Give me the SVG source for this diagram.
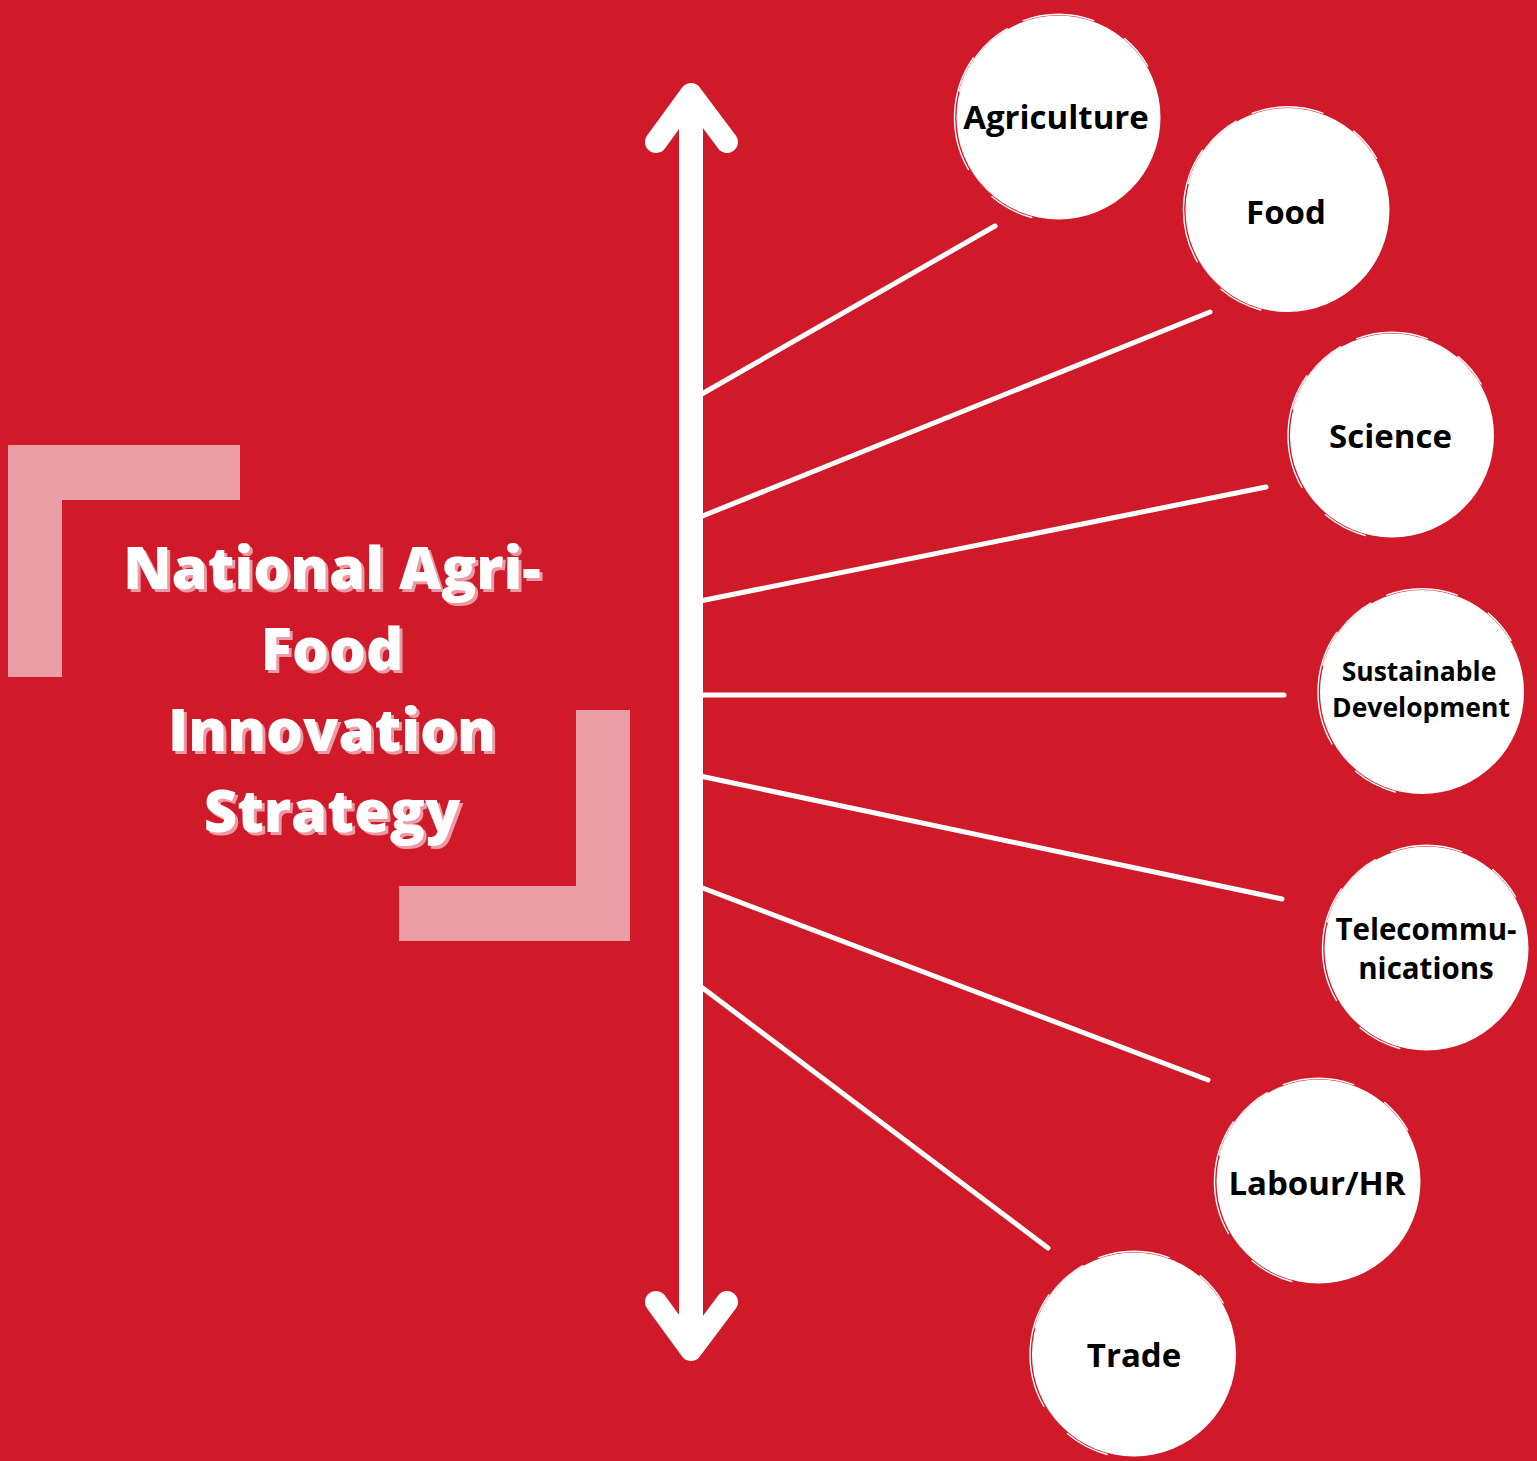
<svg xmlns="http://www.w3.org/2000/svg" xmlns:xlink="http://www.w3.org/1999/xlink" width="1537" height="1461" viewBox="0 0 1537 1461">
<style>
.bg{fill:#d11a29}
.bracket{fill:#eb9ea5}
.title{font-family:"Open Sans","Liberation Sans",sans-serif;font-weight:800;font-size:58px;text-anchor:middle}
.title-shadow{fill:#ec9aa3}
.title-main{fill:#ffffff}
.node-fill{fill:#ffffff}
.brush{fill:none;stroke:#ffffff;stroke-width:1.4;stroke-linecap:round}
.label{font-family:"Open Sans","Liberation Sans",sans-serif;font-weight:700;fill:#000000;text-anchor:middle}
.shaft{stroke:#ffffff;stroke-width:24;fill:none}
.head{stroke:#ffffff;stroke-width:22;fill:none;stroke-linecap:round;stroke-linejoin:round}
.branch{stroke:#ffffff;stroke-width:5;fill:none;stroke-linecap:round}
</style>
<defs>
<g id="blob">
<circle class="node-fill" cx="0" cy="0" r="102"/>
<path class="brush" d="M -90.07 52 A 104 104 0 0 1 -85.19 -59.65"/>
<path class="brush" d="M -35.23 -96.79 A 103 103 0 0 1 35.23 -96.79"/>
<path class="brush" d="M -26.79 99.97 A 103.5 103.5 0 0 1 -66.53 79.29"/>
<path class="brush" d="M -99.01 -26.53 A 102.5 102.5 0 0 1 -51.25 -88.77"/>
<path class="brush" d="M 66.21 -78.9 A 103 103 0 0 1 89.2 -51.5"/>
</g>
</defs>
<rect class="bg" x="0" y="0" width="1537" height="1461"/>

<g id="brackets">
<path class="bracket" d="M 8 445 H 240 V 500 H 62 V 677 H 8 Z"/>
<path class="bracket" d="M 630 710 V 941 H 399 V 886 H 576 V 710 Z"/>
</g>

<g id="title">
<g class="title title-shadow" transform="translate(3,3)">
<text x="332" y="589">National Agri-</text>
<text x="332" y="670">Food</text>
<text x="332" y="751">Innovation</text>
<text x="332" y="832">Strategy</text>
</g>
<g class="title title-main">
<text x="332" y="589">National Agri-</text>
<text x="332" y="670">Food</text>
<text x="332" y="751">Innovation</text>
<text x="332" y="832">Strategy</text>
</g>
</g>

<g id="connectors">
<line class="shaft" x1="691" y1="96" x2="691" y2="1348"/>
<polyline class="head" points="656,142 691,94 727,142"/>
<polyline class="head" points="656,1302 691,1350 727,1302"/>
<line class="branch" x1="700" y1="395" x2="995" y2="226"/>
<line class="branch" x1="700" y1="517" x2="1210" y2="312"/>
<line class="branch" x1="700" y1="601" x2="1266" y2="487"/>
<line class="branch" x1="700" y1="695" x2="1284" y2="695"/>
<line class="branch" x1="700" y1="776" x2="1282" y2="899"/>
<line class="branch" x1="700" y1="887" x2="1208" y2="1080"/>
<line class="branch" x1="700" y1="986" x2="1048" y2="1248"/>
</g>

<g id="node-agriculture">
<use xlink:href="#blob" href="#blob" transform="translate(1058.5,117.5)"/>
<text class="label" x="1056" y="129" font-size="33">Agriculture</text>
</g>
<g id="node-food">
<use xlink:href="#blob" href="#blob" transform="translate(1287.5,210)"/>
<text class="label" x="1286" y="224" font-size="33">Food</text>
</g>
<g id="node-science">
<use xlink:href="#blob" href="#blob" transform="translate(1392,435.5)"/>
<text class="label" x="1390.5" y="448" font-size="33">Science</text>
</g>
<g id="node-sustainable-development">
<use xlink:href="#blob" href="#blob" transform="translate(1422,692)"/>
<text class="label" x="1419" y="681" font-size="26.5">Sustainable</text>
<text class="label" x="1421" y="717" font-size="26.5">Development</text>
</g>
<g id="node-telecommunications">
<use xlink:href="#blob" href="#blob" transform="translate(1426.5,948.5)"/>
<text class="label" x="1426" y="940" font-size="29.5">Telecommu-</text>
<text class="label" x="1426" y="979" font-size="29.5">nications</text>
</g>
<g id="node-labour">
<use xlink:href="#blob" href="#blob" transform="translate(1318.5,1181.5)"/>
<text class="label" x="1317" y="1195" font-size="33">Labour/HR</text>
</g>
<g id="node-trade">
<use xlink:href="#blob" href="#blob" transform="translate(1134,1354.5)"/>
<text class="label" x="1134" y="1367" font-size="33">Trade</text>
</g>
</svg>
